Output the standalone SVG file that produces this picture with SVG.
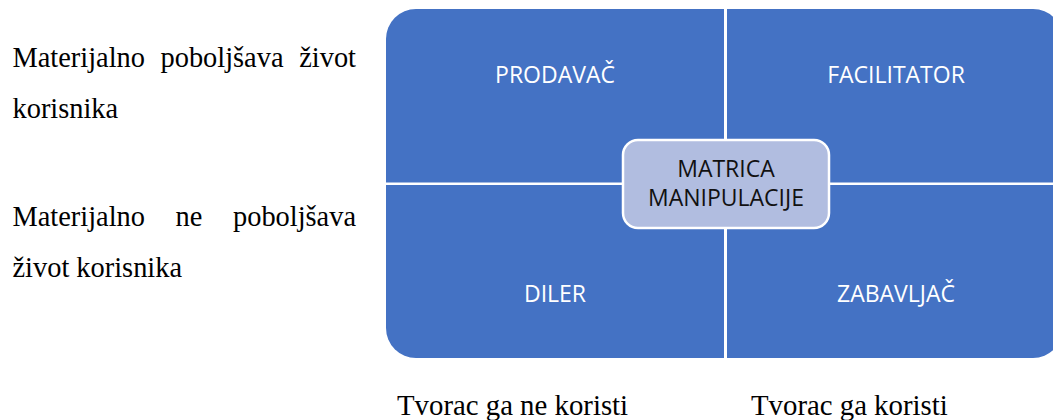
<svg xmlns="http://www.w3.org/2000/svg" width="1053" height="420" viewBox="0 0 1053 420">
  <style>
    .quad { fill: #4472C4; }
    .qlabel { font-family: "Open Sans", "Noto Sans", sans-serif; font-size: 23px; fill: #FFFFFF; text-anchor: middle; }
    .center { fill: #B1BDE0; stroke: #FFFFFF; stroke-width: 2.5; }
    .clabel { font-family: "Open Sans", "Noto Sans", sans-serif; font-size: 23px; fill: #111111; text-anchor: middle; }
    .side { font-family: "Liberation Serif", "Times New Roman", serif; font-size: 28.4px; fill: #000000; }
    .bottom { font-family: "Liberation Serif", "Times New Roman", serif; font-size: 28.8px; fill: #000000; }
    .end { text-anchor: end; }
  </style>
  <rect width="1053" height="420" fill="#FFFFFF"/>
  <g id="prodavac">
    <path class="quad" d="M386,182.5 L386,39 A30,30 0 0 1 416,9 L724,9 L724,182.5 Z"/>
    <text class="qlabel" x="555" y="83">PRODAVAČ</text>
  </g>
  <g id="facilitator">
    <path class="quad" d="M727,9 L1033,9 A30,30 0 0 1 1063,39 L1063,182.5 L727,182.5 Z"/>
    <text class="qlabel" x="896" y="83">FACILITATOR</text>
  </g>
  <g id="diler">
    <path class="quad" d="M386,185 L724,185 L724,358 L416,358 A30,30 0 0 1 386,328 Z"/>
    <text class="qlabel" x="555" y="302">DILER</text>
  </g>
  <g id="zabavljac">
    <path class="quad" d="M727,185 L1063,185 L1063,328 A30,30 0 0 1 1033,358 L727,358 Z"/>
    <text class="qlabel" x="896" y="302">ZABAVLJAČ</text>
  </g>
  <g id="matrica">
    <rect class="center" x="623" y="140" width="206" height="88" rx="15" ry="15"/>
    <text class="clabel" x="726" y="177">MATRICA</text>
    <text class="clabel" x="726" y="206">MANIPULACIJE</text>
  </g>
  <g id="row-labels">
    <text class="side" x="12.5" y="66.5">Materijalno</text>
    <text class="side" x="160.5" y="66.5">poboljšava</text>
    <text class="side end" x="356" y="66.5">život</text>
    <text class="side" x="12.5" y="118">korisnika</text>
    <text class="side" x="12.5" y="226">Materijalno</text>
    <text class="side" x="175.5" y="226">ne</text>
    <text class="side end" x="356" y="226">poboljšava</text>
    <text class="side" x="12.5" y="277">život korisnika</text>
  </g>
  <g id="col-labels">
    <text class="bottom" x="397" y="415">Tvorac ga ne koristi</text>
    <text class="bottom" x="751" y="415">Tvorac ga koristi</text>
  </g>
  <g id="connectors"></g>
</svg>
